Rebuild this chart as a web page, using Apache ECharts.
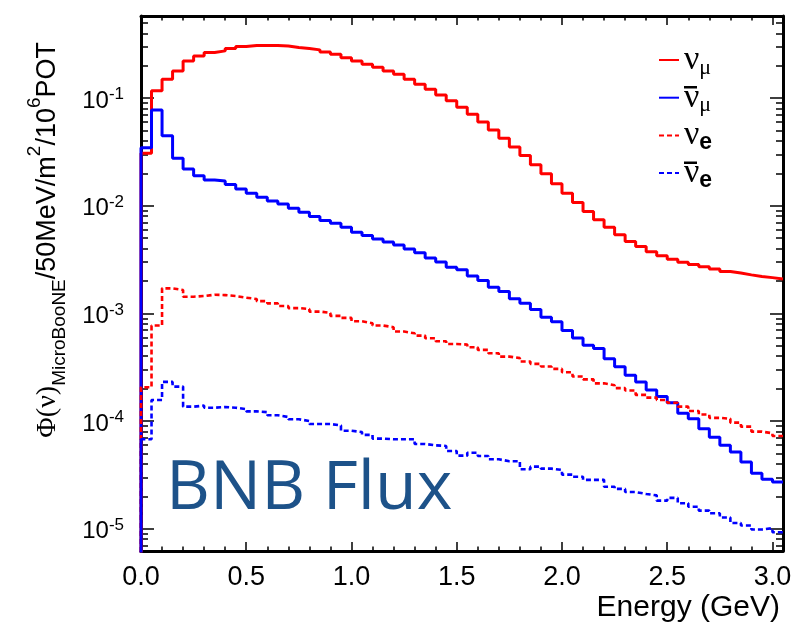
<!DOCTYPE html>
<html>
<head>
<meta charset="utf-8">
<script src="https://cdn.jsdelivr.net/npm/echarts@6/dist/echarts.min.js"></script>
<style>
  html, body { margin: 0; padding: 0; background: #ffffff; }
  #chart { width: 797px; height: 625px; }
</style>
</head>
<body>
<div id="chart"></div>
<script>
// Booster Neutrino Beam flux at MicroBooNE, per 50 MeV bin, per m^2, per 10^6 POT.
const BIN_WIDTH = 0.05;   // GeV
const N_BINS = 61;        // 0.00 .. 3.05 GeV
const binEdges = Array.from({ length: N_BINS + 1 }, (_, i) => +(i * BIN_WIDTH).toFixed(2));

// nu_mu
const numuFlux = [
  0.0308, 0.117, 0.150, 0.179, 0.222, 0.247, 0.266, 0.275, 0.289, 0.302,
  0.308, 0.308, 0.308, 0.305, 0.295, 0.289, 0.281, 0.269, 0.256, 0.238,
  0.222, 0.207, 0.194, 0.179, 0.167, 0.150, 0.135, 0.121, 0.107, 0.0944,
  0.0824, 0.0710, 0.0602, 0.0507, 0.0424, 0.0352, 0.0293, 0.0240, 0.0198, 0.0160,
  0.0131, 0.0107, 0.00884, 0.00740, 0.00632, 0.00537, 0.00465, 0.00418, 0.00375, 0.00344,
  0.00319, 0.00299, 0.00284, 0.00271, 0.00258, 0.00245, 0.00237, 0.00228, 0.00220, 0.00215,
  0.00209
];

// anti-nu_mu
const numubarFlux = [
  0.0347, 0.0778, 0.0447, 0.0277, 0.0220, 0.0190, 0.0174, 0.0170, 0.0158, 0.0143,
  0.0131, 0.0120, 0.0111, 0.0104, 0.00950, 0.00873, 0.00794, 0.00729, 0.00689, 0.00632,
  0.00569, 0.00529, 0.00492, 0.00461, 0.00433, 0.00397, 0.00367, 0.00328, 0.00301, 0.00269,
  0.00254, 0.00223, 0.00202, 0.00175, 0.00160, 0.00137, 0.00124, 0.00109, 0.000922, 0.000835,
  0.000692, 0.000592, 0.000506, 0.000471, 0.000380, 0.000320, 0.000266, 0.000231, 0.000194, 0.000169,
  0.000148, 0.000118, 0.000105, 0.0000849, 0.0000706, 0.0000595, 0.0000516, 0.0000417, 0.0000327, 0.0000288,
  0.0000272
];

// nu_e
const nueFlux = [
  0.000206, 0.000771, 0.00171, 0.00165, 0.00143, 0.00145, 0.00149, 0.00148, 0.00145, 0.00140,
  0.00136, 0.00130, 0.00124, 0.00117, 0.00112, 0.00110, 0.00104, 0.00101, 0.000948, 0.000908,
  0.000845, 0.000811, 0.000771, 0.000745, 0.000678, 0.000654, 0.000622, 0.000588, 0.000552, 0.000520,
  0.000513, 0.000485, 0.000458, 0.000427, 0.000397, 0.000384, 0.000357, 0.000340, 0.000321, 0.000305,
  0.000284, 0.000259, 0.000244, 0.000224, 0.000215, 0.000202, 0.000192, 0.000175, 0.000165, 0.000157,
  0.000148, 0.000136, 0.000124, 0.000115, 0.000107, 0.000105, 0.0000966, 0.0000887, 0.0000797, 0.0000770,
  0.0000727
];

// anti-nu_e
const nuebarFlux = [
  0.0000677, 0.000157, 0.000231, 0.000209, 0.000136, 0.000139, 0.000133, 0.000135, 0.000133, 0.000129,
  0.000123, 0.000121, 0.000113, 0.000109, 0.000104, 0.000100, 0.0000938, 0.0000938, 0.0000911, 0.0000813,
  0.0000790, 0.0000743, 0.0000686, 0.0000677, 0.0000677, 0.0000677, 0.0000612, 0.0000595, 0.0000587, 0.0000527,
  0.0000477, 0.0000508, 0.0000473, 0.0000441, 0.0000423, 0.0000423, 0.0000356, 0.0000377, 0.0000361, 0.0000351,
  0.0000318, 0.0000304, 0.0000284, 0.0000284, 0.0000245, 0.0000234, 0.0000219, 0.0000210, 0.0000204, 0.0000182,
  0.0000193, 0.0000172, 0.0000160, 0.0000147, 0.0000139, 0.0000127, 0.0000113, 0.0000107, 0.00000983, 0.0000101,
  0.00000927
];

// Axis ranges and tick values
const X_MIN = 0, X_MAX = 3.05;
const Y_MIN = 6.2e-6, Y_MAX = 0.58;
const xMajorTicks = [0, 0.5, 1.0, 1.5, 2.0, 2.5, 3.0];
const xMinorTicks = [0.1, 0.2, 0.3, 0.4, 0.6, 0.7, 0.8, 0.9, 1.1, 1.2, 1.3, 1.4, 1.6, 1.7, 1.8, 1.9,
                     2.1, 2.2, 2.3, 2.4, 2.6, 2.7, 2.8, 2.9];
const yMajorTicks = [1e-5, 1e-4, 1e-3, 1e-2, 1e-1];
const yMinorTicks = [];
for (let p = -6; p <= -1; p++) {
  for (let k = 2; k <= 9; k++) {
    const v = Number((k * Math.pow(10, p)).toPrecision(3));
    if (v >= Y_MIN && v <= Y_MAX) yMinorTicks.push(v);
  }
}

// Histogram baseline below the visible range so the first bin rises from the frame.
const HIST_FLOOR = 1e-7;

function histPoints(values) {
  const pts = [[binEdges[0], HIST_FLOOR]];
  values.forEach((v, i) => pts.push([binEdges[i], v]));
  pts.push([binEdges[values.length], values[values.length - 1]]);
  return pts;
}

const SANS = '"Liberation Sans", Arial, Helvetica, sans-serif';
const GREEK = '"Liberation Serif", "Times New Roman", serif';
const RED = '#ff0000', BLUE = '#0000ff';
const DASH = [5, 3];

const legendRich = {
  n: { fontFamily: GREEK, fontSize: 34, lineHeight: 38, color: '#000' },
  mu: { fontFamily: GREEK, fontSize: 22, lineHeight: 23, verticalAlign: 'bottom', color: '#000' },
  e: { fontFamily: SANS, fontSize: 23, fontWeight: 'bold', lineHeight: 27, verticalAlign: 'bottom', color: '#000' }
};
const legendLabels = {
  'numu': '{n|ν}{mu|μ}',
  'numubar': '{n|ν}{mu|μ}',
  'nue': '{n|ν}{e|e}',
  'nuebar': '{n|ν}{e|e}'
};
// Bars over the antineutrino symbols in the legend (left, top of the bar).
const BAR_W = 13, BAR_H = 2.5;
const antiBars = [[684, 86], [684, 161.5]];

function makeXAxis(position, ticks, len, showLine, showLabel) {
  return {
    type: 'value', position: position, min: X_MIN, max: X_MAX,
    axisLine: { show: showLine, onZero: false, lineStyle: { color: '#000', width: 3 } },
    axisTick: { show: true, inside: true, length: len, customValues: ticks,
                lineStyle: { color: '#000', width: 1.5 } },
    axisLabel: showLabel ? {
      show: true, customValues: xMajorTicks, margin: 13,
      fontFamily: SANS, fontSize: 27, color: '#000',
      formatter: v => v.toFixed(1)
    } : { show: false },
    splitLine: { show: false }
  };
}

function makeYAxis(position, ticks, len, showLine, showLabel) {
  return {
    type: 'log', logBase: 10, position: position, min: Y_MIN, max: Y_MAX,
    axisLine: { show: showLine, onZero: false, lineStyle: { color: '#000', width: 3 } },
    axisTick: { show: true, inside: true, length: len, customValues: ticks,
                lineStyle: { color: '#000', width: 1.5 } },
    axisLabel: showLabel ? {
      show: true, customValues: yMajorTicks, margin: 17, padding: [6, 0, 0, 0],
      formatter: v => '{b|10}{e|' + Math.round(Math.log10(v)) + '}',
      rich: {
        b: { fontFamily: SANS, fontSize: 24, lineHeight: 30, color: '#000' },
        e: { fontFamily: SANS, fontSize: 17, lineHeight: 15, verticalAlign: 'top', color: '#000' }
      }
    } : { show: false },
    splitLine: { show: false }
  };
}

const chart = echarts.init(document.getElementById('chart'), null, { renderer: 'canvas' });

const xAxes = [
  makeXAxis('bottom', xMajorTicks, 9, true, true),
  makeXAxis('bottom', xMinorTicks, 4.5, false, false),
  makeXAxis('top', xMajorTicks, 9, true, false),
  makeXAxis('top', xMinorTicks, 4.5, false, false)
];
xAxes[0].name = 'Energy (GeV)';
xAxes[0].nameLocation = 'end';
xAxes[0].nameGap = -3;
xAxes[0].nameTextStyle = {
  fontFamily: SANS, fontSize: 30, color: '#000',
  align: 'right', verticalAlign: 'top', padding: [42, 0, 0, 0]
};

const yAxes = [
  makeYAxis('left', yMajorTicks, 13, true, true),
  makeYAxis('left', yMinorTicks, 7, false, false),
  makeYAxis('right', yMajorTicks, 13, true, false),
  makeYAxis('right', yMinorTicks, 7, false, false)
];

function histSeries(name, values, color, dashed) {
  return {
    name: name, type: 'line', step: 'end', symbol: 'none', showSymbol: false,
    xAxisIndex: 0, yAxisIndex: 0, clip: true,
    data: histPoints(values),
    lineStyle: { color: color, width: dashed ? 2.6 : 3, type: dashed ? DASH : 'solid' },
    itemStyle: { color: color },
    emphasis: { disabled: true }
  };
}

chart.setOption({
  animation: false,
  backgroundColor: '#ffffff',
  grid: { left: 141, right: 14, top: 16, bottom: 74, containLabel: false },
  xAxis: xAxes,
  yAxis: yAxes,
  legend: {
    orient: 'vertical', left: 658, top: 43, padding: 0,
    itemWidth: 20, itemHeight: 2, itemGap: 1.7,
    selectedMode: false,
    itemStyle: { opacity: 0 },
    data: ['numu', 'numubar', 'nue', 'nuebar'],
    formatter: name => legendLabels[name],
    textStyle: { rich: legendRich }
  },
  graphic: [
    {
      type: 'text', x: 69.5, y: 42, rotation: Math.PI / 2, silent: true,
      style: {
        text: '{g|Φ(ν)}{sub|MicroBooNE}{m|/50MeV/m}{sup|2}{m|/10}{sup|6}{m|POT}',
        align: 'right', verticalAlign: 'bottom', fill: '#000',
        rich: {
          g: { fontFamily: GREEK, fontSize: 28, lineHeight: 44, color: '#000' },
          m: { fontFamily: SANS, fontSize: 27, lineHeight: 44, color: '#000' },
          sub: { fontFamily: SANS, fontSize: 19, lineHeight: 12, verticalAlign: 'bottom', color: '#000' },
          sup: { fontFamily: SANS, fontSize: 19, lineHeight: 4, verticalAlign: 'top', color: '#000' }
        }
      }
    },
    {
      type: 'text', x: 166, y: 490, silent: true,
      style: {
        text: 'BNB Flux', fill: '#1d5289',
        font: '68px "Open Sans", "Noto Sans", sans-serif',
        align: 'left', verticalAlign: 'middle'
      }
    }
  ].concat(antiBars.map(([bx, by]) => ({
    type: 'rect', silent: true, z: 100,
    shape: { x: bx, y: by, width: BAR_W, height: BAR_H },
    style: { fill: '#000' }
  }))),
  series: [
    histSeries('numu', numuFlux, RED, false),
    histSeries('numubar', numubarFlux, BLUE, false),
    histSeries('nue', nueFlux, RED, true),
    histSeries('nuebar', nuebarFlux, BLUE, true)
  ]
});
</script>
</body>
</html>
